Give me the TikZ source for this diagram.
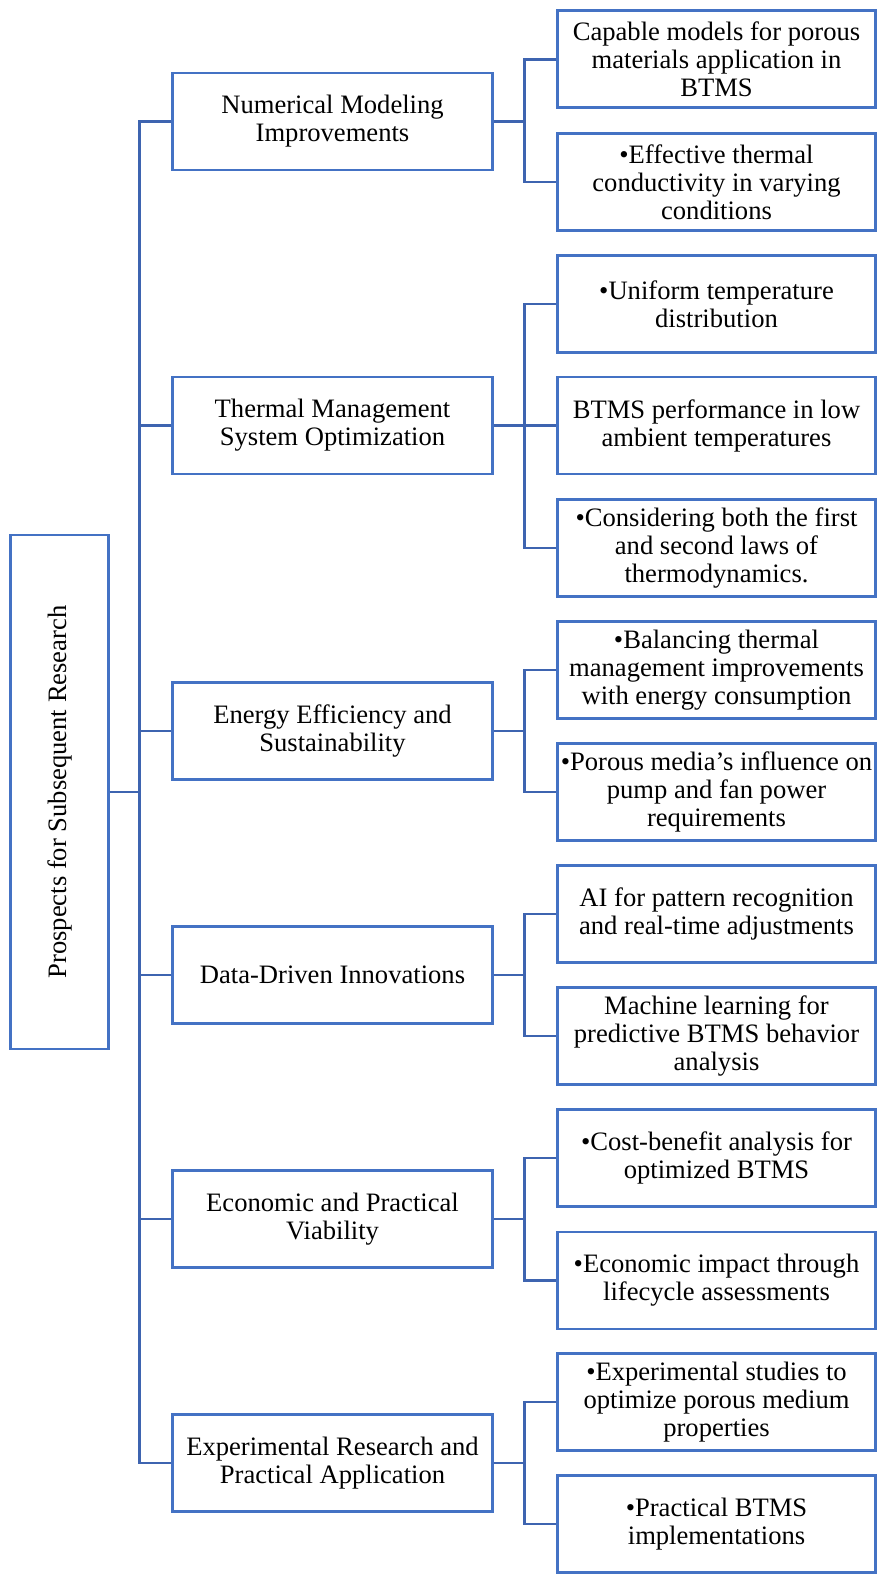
\documentclass[tikz,border=0pt]{standalone}
\usepackage{fontspec}
\setmainfont{Liberation Serif}
\definecolor{boxblue}{HTML}{4472C4}
\definecolor{lineblue}{HTML}{3E64B0}
\begin{document}
\begin{tikzpicture}[x=1pt,y=-1pt,
  every node/.style={font=\fontsize{26.6}{28}\selectfont, align=center, inner sep=0pt},
  boxstyle/.style={draw=boxblue, line width=2.8pt, minimum height=97pt},
  midbox/.style={boxstyle, minimum width=320pt},
  leafbox/.style={boxstyle, minimum width=318pt},
  conn/.style={draw=lineblue, line width=2.8pt}]
\useasboundingbox (0,0) rectangle (877,1574);
\node[draw=boxblue, line width=2.8pt, minimum width=98pt, minimum height=514pt] (root) at (59.5,792) {};
\node[rotate=90] at (root.center) {Prospects for Subsequent Research};

\node[midbox] (m1) at (332.5,121.5) {Numerical Modeling\\Improvements};
\node[midbox] (m2) at (332.5,425.5) {Thermal Management\\System Optimization};
\node[midbox] (m3) at (332.5,731) {Energy Efficiency and\\Sustainability};
\node[midbox] (m4) at (332.5,975) {Data-Driven Innovations};
\node[midbox] (m5) at (332.5,1219) {Economic and Practical\\Viability};
\node[midbox] (m6) at (332.5,1463) {Experimental Research and\\Practical Application};

\node[leafbox] (l1a) at (716.5,59.2) {Capable models for porous\\materials application in\\BTMS};
\node[leafbox] (l1b) at (716.5,182) {•Effective thermal\\conductivity in varying\\conditions};
\node[leafbox] (l2a) at (716.5,304) {•Uniform temperature\\distribution};
\node[leafbox] (l2b) at (716.5,425.5) {BTMS performance in low\\ambient temperatures};
\node[leafbox] (l2c) at (716.5,548) {•Considering both the first\\and second laws of\\thermodynamics.};
\node[leafbox] (l3a) at (716.5,670) {•Balancing thermal\\management improvements\\with energy consumption};
\node[leafbox] (l3b) at (716.5,792) {•Porous media’s influence on\\pump and fan power\\requirements};
\node[leafbox] (l4a) at (716.5,914) {AI for pattern recognition\\and real-time adjustments};
\node[leafbox] (l4b) at (716.5,1036) {Machine learning for\\predictive BTMS behavior\\analysis};
\node[leafbox] (l5a) at (716.5,1158) {•Cost-benefit analysis for\\optimized BTMS};
\node[leafbox] (l5b) at (716.5,1280.5) {•Economic impact through\\lifecycle assessments};
\node[leafbox] (l6a) at (716.5,1402) {•Experimental studies to\\optimize porous medium\\properties};
\node[leafbox] (l6b) at (716.5,1524) {•Practical BTMS\\implementations};

% trunk
\path[conn] (root.east) -- ++(31,0);
\path[conn] (m1.west) -- ++(-32,0) |- (m6.west);
\foreach \m in {m2,m3,m4,m5} \path[conn] (\m.west) -- ++(-32,0);

% brackets
\foreach \m/\a/\b in {m1/l1a/l1b, m3/l3a/l3b, m4/l4a/l4b, m5/l5a/l5b, m6/l6a/l6b} {
  \path[conn] (\m.east) -- ++(32,0);
  \path[conn] (\a.west) -- ++(-32,0) |- (\b.west);
}
\path[conn] (l2a.west) -- ++(-32,0) |- (l2c.west);
\path[conn] (m2.east) -- (l2b.west);
\end{tikzpicture}
\end{document}
